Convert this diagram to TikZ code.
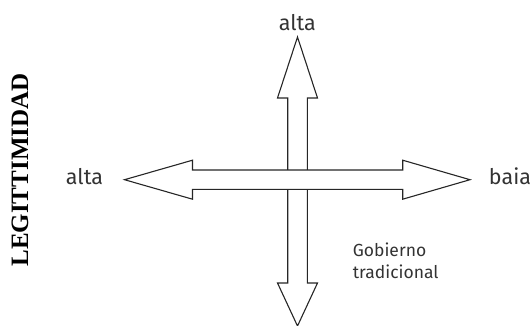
\documentclass[tikz,border=0pt]{standalone}
\usepackage{fontspec}
\setmainfont{Liberation Serif}
\setsansfont{Fira Sans}
\usetikzlibrary{positioning}

\begin{document}
\begin{tikzpicture}[x=1pt,y=-1pt,
  flecha/.style={draw=black!85,line width=1.1pt,fill=white,line join=miter},
  etiq/.style={font=\sffamily\fontsize{21.5}{24}\selectfont,text=black!80,inner sep=0pt},
  nota/.style={font=\sffamily\fontsize{17.5}{22}\selectfont,text=black!80,inner sep=0pt,align=left},
  eje/.style={font=\bfseries\fontsize{25}{30}\selectfont,inner sep=0pt,rotate=90}]
  \useasboundingbox (0,0) rectangle (531,325);
  % vertical double arrow (drawn first, horizontal one lies on top)
  \draw[flecha] (297.5,37) -- (317.5,98) -- (307.3,98) -- (307.3,283) -- (317.5,283)
        -- (297.5,326) -- (277.5,283) -- (287.7,283) -- (287.7,98) -- (277.5,98) -- cycle;
  % horizontal double arrow
  \draw[flecha] (124.5,179.7) -- (192.5,160.2) -- (192.5,170) -- (402.7,170) -- (402.7,160.2)
        -- (470,179.7) -- (402.7,199.2) -- (402.7,189.4) -- (192.5,189.4) -- (192.5,199.2) -- cycle;
  % labels at the arrow ends
  \node[etiq,anchor=base] (altasup) at (297.3,30.7) {alta};
  \node[etiq,anchor=base] (altaizq) at (84.5,184) {alta};
  \node[etiq,anchor=base] (baia) at (510,184.5) {baia};
  % quadrant note
  \node[nota,anchor=north west] (gobierno) at (352.7,242.5) {Gobierno\\tradicional};
  % axis title
  \node[eje] (legit) at (20,170) {LEGITTIMIDAD};
\end{tikzpicture}
\end{document}
